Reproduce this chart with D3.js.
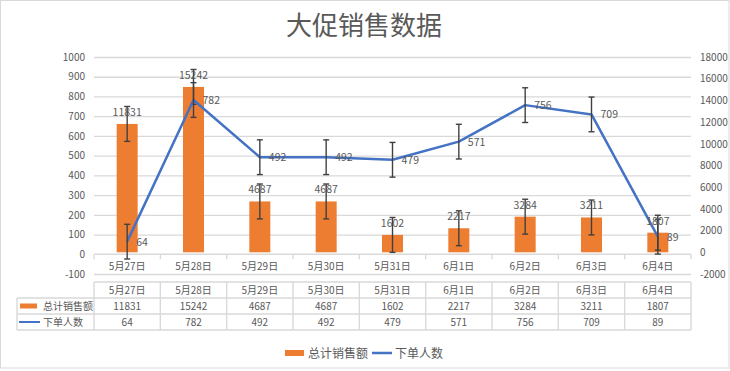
<!DOCTYPE html>
<html>
<head>
<meta charset="utf-8">
<script src="https://cdn.jsdelivr.net/npm/d3@7"></script>
<style>
  body { margin: 0; background: #fff; }
  svg text { font-family: "Noto Sans CJK SC", "Noto Sans", sans-serif; fill: #595959; }
</style>
</head>
<body>
<div id="chart"></div>
<script>
// values
const dates = ["5月27日", "5月28日", "5月29日", "5月30日", "5月31日", "6月1日", "6月2日", "6月3日", "6月4日"];
const sales = [11831, 15242, 4687, 4687, 1602, 2217, 3284, 3211, 1807];
const buyers = [64, 782, 492, 492, 479, 571, 756, 709, 89];
const salesErr = 1607;   // standard error bar size
const buyersErr = 88;
const leftTicks = [-100, 0, 100, 200, 300, 400, 500, 600, 700, 800, 900, 1000];
const rightTicks = [-2000, 0, 2000, 4000, 6000, 8000, 10000, 12000, 14000, 16000, 18000];
const seriesNames = ["总计销售额", "下单人数"];

const width = 730, height = 371;
const orange = "#ED7D31", blue = "#4472C4", grid = "#d9d9d9", errColor = "#404040";
const plot = {left: 94, right: 691, top: 57, bottom: 274};

const svg = d3.select("#chart").append("svg")
    .attr("width", width)
    .attr("height", height);

// outer chart border
svg.append("rect")
    .attr("x", 0.5).attr("y", 0.5)
    .attr("width", 728.5).attr("height", 367.5)
    .attr("fill", "#fff")
    .attr("stroke", grid);

// title
svg.append("text")
    .attr("x", 364).attr("y", 35)
    .attr("text-anchor", "middle")
    .style("font-size", "26px")
    .attr("fill", "#666")
    .text("大促销售数据");

// scales
const x = d3.scaleBand()
    .domain(dates)
    .range([plot.left, plot.right]);

const yLeft = d3.scaleLinear()
    .domain([-100, 1000])
    .range([plot.bottom, plot.top]);

const yRight = d3.scaleLinear()
    .domain([-2000, 18000])
    .range([plot.bottom, plot.top]);

const plain = d => String(d);

// gridlines
svg.append("g")
    .attr("transform", `translate(${plot.left},0)`)
    .call(d3.axisLeft(yLeft).tickValues(leftTicks.filter(d => d !== 0)).tickSize(-(plot.right - plot.left)).tickFormat(""))
    .call(g => g.select(".domain").remove())
    .call(g => g.selectAll("line").attr("stroke", grid).attr("stroke-width", 1.3));

// left axis labels
svg.append("g")
    .attr("transform", `translate(${plot.left - 6},0)`)
    .call(d3.axisLeft(yLeft).tickValues(leftTicks).tickSize(0).tickFormat(plain))
    .call(g => g.select(".domain").remove())
    .call(g => g.selectAll("text").style("font-size", "10px").attr("fill", "#595959"));

// right axis labels
svg.append("g")
    .attr("transform", `translate(${plot.right + 6},0)`)
    .call(d3.axisRight(yRight).tickValues(rightTicks).tickSize(0).tickFormat(plain))
    .call(g => g.select(".domain").remove())
    .call(g => g.selectAll("text").style("font-size", "10px").attr("fill", "#595959"));

// category axis at left 0
const y0 = yLeft(0);
const xAxis = svg.append("g");
xAxis.append("line")
    .attr("x1", plot.left).attr("x2", plot.right)
    .attr("y1", y0).attr("y2", y0)
    .attr("stroke", grid).attr("stroke-width", 1.3);
xAxis.selectAll(".tick")
    .data(dates.concat(["end"]))
    .join("line")
    .attr("x1", (d, i) => i < dates.length ? x(d) : plot.right)
    .attr("x2", (d, i) => i < dates.length ? x(d) : plot.right)
    .attr("y1", y0).attr("y2", y0 + 5)
    .attr("stroke", grid).attr("stroke-width", 1.3);
xAxis.selectAll("text")
    .data(dates)
    .join("text")
    .attr("x", d => x(d) + x.bandwidth() / 2)
    .attr("y", y0 + 16)
    .attr("text-anchor", "middle")
    .style("font-size", "10px")
    .text(d => d);

// bars (right axis)
const barW = 21;
const cx = i => x(dates[i]) + x.bandwidth() / 2;

svg.append("g")
    .selectAll("rect")
    .data(sales)
    .join("rect")
    .attr("x", (d, i) => cx(i) - barW / 2)
    .attr("y", d => yRight(d))
    .attr("width", barW)
    .attr("height", d => yRight(0) - yRight(d))
    .attr("fill", orange);

function errorBars(values, err, scale) {
  const g = svg.append("g")
      .attr("stroke", errColor)
      .attr("stroke-width", 1.4);
  values.forEach((v, i) => {
    const top = scale(v + err), bot = scale(v - err);
    g.append("line").attr("x1", cx(i)).attr("x2", cx(i)).attr("y1", top).attr("y2", bot);
    g.append("line").attr("x1", cx(i) - 3).attr("x2", cx(i) + 3).attr("y1", top).attr("y2", top);
    g.append("line").attr("x1", cx(i) - 3).attr("x2", cx(i) + 3).attr("y1", bot).attr("y2", bot);
  });
}

errorBars(sales, salesErr, yRight);

// line (left axis)
const line = d3.line()
    .x((d, i) => cx(i))
    .y(d => yLeft(d));

svg.append("path")
    .datum(buyers)
    .attr("d", line)
    .attr("fill", "none")
    .attr("stroke", blue)
    .attr("stroke-width", 2.5)
    .attr("stroke-linejoin", "round");

errorBars(buyers, buyersErr, yLeft);

// data labels
svg.append("g")
    .selectAll("text")
    .data(sales)
    .join("text")
    .attr("x", (d, i) => cx(i))
    .attr("y", d => yRight(d) - 8)
    .attr("text-anchor", "middle")
    .style("font-size", "10.5px")
    .attr("fill", "#404040")
    .text(d => d);

svg.append("g")
    .selectAll("text")
    .data(buyers)
    .join("text")
    .attr("x", (d, i) => cx(i) + 9)
    .attr("y", d => yLeft(d) + 4)
    .style("font-size", "10.5px")
    .attr("fill", "#404040")
    .text(d => d);

// data table
const tTop = 282, rowH = 16, keyLeft = 17;
const table = svg.append("g")
    .attr("fill", "none")
    .attr("stroke", grid)
    .attr("stroke-width", 1.4);

// horizontal lines
table.append("line").attr("x1", plot.left).attr("x2", plot.right).attr("y1", tTop).attr("y2", tTop);
[1, 2, 3].forEach(r => {
  table.append("line")
      .attr("x1", keyLeft).attr("x2", plot.right)
      .attr("y1", tTop + r * rowH).attr("y2", tTop + r * rowH);
});
// vertical lines
table.append("line").attr("x1", keyLeft).attr("x2", keyLeft).attr("y1", tTop + rowH).attr("y2", tTop + 3 * rowH);
dates.concat(["end"]).forEach((d, i) => {
  const xx = i < dates.length ? x(d) : plot.right;
  table.append("line").attr("x1", xx).attr("x2", xx).attr("y1", tTop).attr("y2", tTop + 3 * rowH);
});

const rows = [dates, sales, buyers];
rows.forEach((row, r) => {
  svg.append("g")
      .selectAll("text")
      .data(row)
      .join("text")
      .attr("x", (d, i) => cx(i))
      .attr("y", tTop + r * rowH + rowH / 2 + 3.5)
      .attr("text-anchor", "middle")
      .style("font-size", "10px")
      .text(d => d);
});

// series keys inside the table
svg.append("rect")
    .attr("x", 20).attr("y", tTop + rowH + 5.5)
    .attr("width", 17).attr("height", 5)
    .attr("fill", orange);
svg.append("line")
    .attr("x1", 19).attr("x2", 40)
    .attr("y1", tTop + 2.5 * rowH).attr("y2", tTop + 2.5 * rowH)
    .attr("stroke", blue).attr("stroke-width", 2);
seriesNames.forEach((name, r) => {
  svg.append("text")
      .attr("x", 43)
      .attr("y", tTop + (r + 1) * rowH + rowH / 2 + 3.5)
      .style("font-size", "10px")
      .text(name);
});

// legend
const legend = svg.append("g");
legend.append("rect")
    .attr("x", 285).attr("y", 350)
    .attr("width", 19).attr("height", 6)
    .attr("fill", orange);
legend.append("text")
    .attr("x", 308).attr("y", 357.5)
    .style("font-size", "12px")
    .text(seriesNames[0]);
legend.append("line")
    .attr("x1", 372).attr("x2", 392)
    .attr("y1", 353).attr("y2", 353)
    .attr("stroke", blue).attr("stroke-width", 2.5);
legend.append("text")
    .attr("x", 395).attr("y", 357.5)
    .style("font-size", "12px")
    .text(seriesNames[1]);
</script>
</body>
</html>
